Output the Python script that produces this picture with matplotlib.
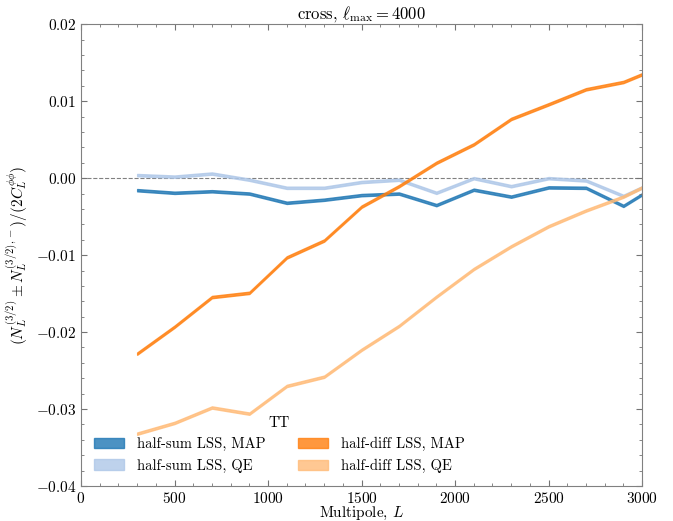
import numpy as np
import matplotlib
matplotlib.use("Agg")
import matplotlib.pyplot as plt
from matplotlib.ticker import MultipleLocator

plt.rcParams['font.family'] = 'serif'
plt.rcParams['font.serif'] = ['cmr10']
plt.rcParams['mathtext.fontset'] = 'cm'
plt.rcParams['axes.formatter.use_mathtext'] = True
plt.rcParams['axes.unicode_minus'] = True

L = [300, 500, 700, 900, 1100, 1300, 1500, 1700, 1900, 2100, 2300, 2500, 2700, 2900, 3000]

sum_map = [-0.00156, -0.0019, -0.0017, -0.0020, -0.0032, -0.0028, -0.0022, -0.0020,
           -0.0035, -0.0015, -0.0024, -0.0012, -0.00125, -0.0036, -0.0021]
sum_qe = [0.0004, 0.0002, 0.0006, -0.0002, -0.00125, -0.00125, -0.0005, -0.0002,
          -0.0019, 0.0000, -0.00104, 0.0000, -0.0003, -0.0023, -0.0012]
diff_map = [-0.0228, -0.0193, -0.01545, -0.0149, -0.0103, -0.0081, -0.0037, -0.00104,
            0.0020, 0.0044, 0.0077, 0.0096, 0.01155, 0.0125, 0.0135]
diff_qe = [-0.0332, -0.0318, -0.0298, -0.0306, -0.0270, -0.0258, -0.0223, -0.0192,
           -0.0154, -0.0118, -0.00885, -0.00625, -0.0042, -0.0024, -0.0012]

labels = ['half-sum LSS, MAP', 'half-sum LSS, QE', 'half-diff LSS, MAP', 'half-diff LSS, QE']
colors = ['#1f77b4', '#aec7e8', '#ff7f0e', '#ffbb78']
err = 0.00015

fig = plt.figure(figsize=(6.73, 5.21), dpi=100)
ax = fig.add_axes([0.1204, 0.0672, 0.954 - 0.1204, 0.9534 - 0.0672])

x = np.array(L)
for ys, lab, c in zip([sum_map, sum_qe, diff_map, diff_qe], labels, colors):
    y = np.array(ys)
    ax.fill_between(x, y - err, y + err, color=c, alpha=0.8, label=lab)

ax.axhline(0, color='0.5', ls='--', lw=0.8, zorder=0)

ax.set_xlim(0, 3000)
ax.set_ylim(-0.04, 0.02)
ax.xaxis.set_major_locator(MultipleLocator(500))
ax.xaxis.set_minor_locator(MultipleLocator(100))
ax.yaxis.set_major_locator(MultipleLocator(0.01))
ax.yaxis.set_minor_locator(MultipleLocator(0.002))
ax.tick_params(which='both', direction='in', top=True, right=True, color='0.45', labelsize=11)
ax.tick_params(which='major', length=4)
ax.tick_params(which='minor', length=2.5)
for s in ax.spines.values():
    s.set_color('0.5')

ax.set_xlabel(r'Multipole, $L$', fontsize=11, labelpad=-1)
ax.set_ylabel(r'$(N_L^{(3/2)} \pm N_L^{(3/2),-})/(2C_L^{\phi\phi})$', fontsize=11)
ax.set_title(r'cross, $\ell_{\max}=4000$', fontsize=12, pad=3)

leg = ax.legend(loc='lower left', ncol=2, frameon=False, title='TT', fontsize=10.5,
                title_fontsize=10.5, handlelength=2.05, handletextpad=0.9,
                columnspacing=2.2)

fig.savefig('out.png', dpi=100)
